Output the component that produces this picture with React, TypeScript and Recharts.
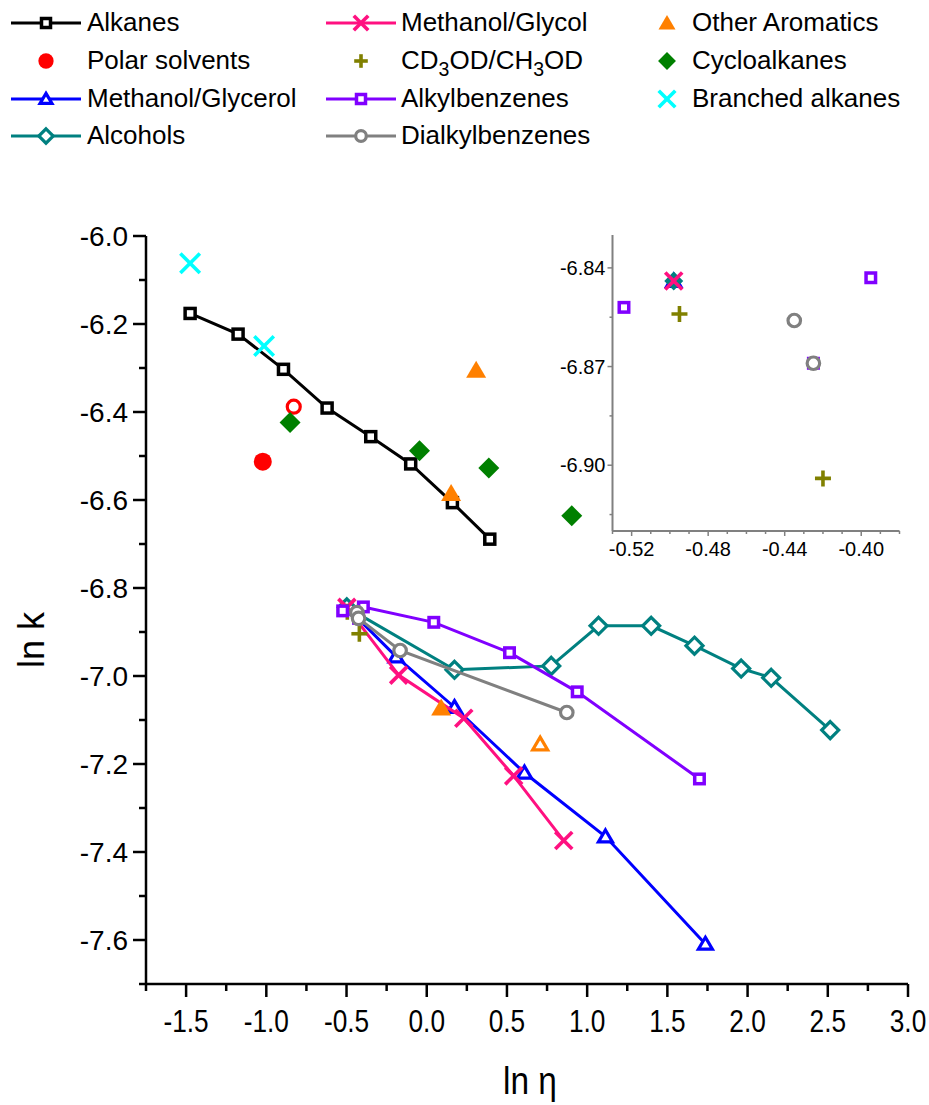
import React from "react";
import { ScatterChart, Scatter, XAxis, YAxis } from "recharts";

if (typeof document !== "undefined") document.body.style.margin = "0";

const FONT = "'Liberation Sans', Arial, sans-serif";

// [ln eta, ln k]
const alkanes = [[-1.475, -6.176], [-1.176, -6.223], [-0.893, -6.303], [-0.621, -6.391], [-0.349, -6.456], [-0.1, -6.518], [0.16, -6.606], [0.393, -6.689]];
const polarSolvents = [[-1.022, -6.513], [-0.829, -6.388]];
const polarOpen = [false, true];
const methanolGlycerol = [[-0.498, -6.844], [-0.191, -6.956], [0.173, -7.071], [0.609, -7.22], [1.114, -7.365], [1.737, -7.609]];
const alcohols = [[-0.498, -6.844], [0.173, -6.986], [0.776, -6.977], [1.071, -6.886], [1.399, -6.886], [1.669, -6.931], [1.96, -6.983], [2.147, -7.004], [2.515, -7.123]];
const methanolGlycol = [[-0.498, -6.844], [-0.175, -6.998], [0.231, -7.096], [0.542, -7.227], [0.854, -7.374]];
const cd3od = [[-0.495, -6.854], [-0.42, -6.904]];
const alkylbenzenes = [[-0.524, -6.852], [-0.425, -6.869], [-0.395, -6.843], [0.044, -6.878], [0.516, -6.947], [0.938, -7.036], [1.7, -7.234]];
const dialkylbenzenes = [[-0.435, -6.856], [-0.425, -6.869], [-0.166, -6.942], [0.873, -7.083]];
const otherAromatics = [[0.308, -6.305], [0.152, -6.585], [0.09, -7.073], [0.707, -7.155]];
const aromaticsOpen = [false, false, false, true];
const cycloalkanes = [[-0.852, -6.424], [-0.045, -6.488], [0.387, -6.527], [0.904, -6.636]];
const branchedAlkanes = [[-1.475, -6.062], [-1.014, -6.25]];

// axis ticks
const xTicks = [-1.75, -1.5, -1.25, -1.0, -0.75, -0.5, -0.25, 0, 0.25, 0.5, 0.75, 1.0, 1.25, 1.5, 1.75, 2.0, 2.25, 2.5, 2.75, 3.0];
const xMajor = [-1.5, -1.0, -0.5, 0, 0.5, 1.0, 1.5, 2.0, 2.5, 3.0];
const yTicks = [-7.7, -7.6, -7.5, -7.4, -7.3, -7.2, -7.1, -7.0, -6.9, -6.8, -6.7, -6.6, -6.5, -6.4, -6.3, -6.2, -6.1, -6.0];
const yMajor = [-7.6, -7.4, -7.2, -7.0, -6.8, -6.6, -6.4, -6.2, -6.0];
const insetXTicks = [-0.53, -0.52, -0.51, -0.5, -0.49, -0.48, -0.47, -0.46, -0.45, -0.44, -0.43, -0.42, -0.41, -0.4, -0.39, -0.38];
const insetXMajor = [-0.52, -0.48, -0.44, -0.4];
const insetYTicks = [-6.915, -6.9, -6.885, -6.87, -6.855, -6.84];
const insetYMajor = [-6.9, -6.87, -6.84];

type Kind = "square" | "circle" | "triangle" | "diamond" | "x" | "plus";

const toPts = (arr: number[][], open?: boolean[]) =>
  arr.map(([x, y], i) => ({ x, y, open: open ? open[i] : false }));

// size = geometric size of the symbol; openSize used for the hollow variant of filled series
const series = [
  { name: "Alkanes", pts: toPts(alkanes), color: "#000000", kind: "square" as Kind, filled: false, size: 10, openSize: 10, line: true },
  { name: "Polar solvents", pts: toPts(polarSolvents, polarOpen), color: "#ff0000", kind: "circle" as Kind, filled: true, size: 18, openSize: 13, line: false },
  { name: "Methanol/Glycerol", pts: toPts(methanolGlycerol), color: "#0000ff", kind: "triangle" as Kind, filled: false, size: 14, openSize: 14, line: true },
  { name: "Alcohols", pts: toPts(alcohols), color: "#008080", kind: "diamond" as Kind, filled: false, size: 17, openSize: 17, line: true },
  { name: "Methanol/Glycol", pts: toPts(methanolGlycol), color: "#ff1080", kind: "x" as Kind, filled: false, size: 17, openSize: 17, line: true },
  { name: "CD3OD/CH3OD", pts: toPts(cd3od), color: "#808000", kind: "plus" as Kind, filled: false, size: 16, openSize: 16, line: false },
  { name: "Alkylbenzenes", pts: toPts(alkylbenzenes), color: "#8000ff", kind: "square" as Kind, filled: false, size: 9.5, openSize: 9.5, line: true },
  { name: "Dialkylbenzenes", pts: toPts(dialkylbenzenes), color: "#808080", kind: "circle" as Kind, filled: false, size: 12.5, openSize: 12.5, line: true },
  { name: "Other Aromatics", pts: toPts(otherAromatics, aromaticsOpen), color: "#ff8000", kind: "triangle" as Kind, filled: true, size: 20, openSize: 15, line: false },
  { name: "Cycloalkanes", pts: toPts(cycloalkanes), color: "#008000", kind: "diamond" as Kind, filled: true, size: 21, openSize: 21, line: false },
  { name: "Branched alkanes", pts: toPts(branchedAlkanes), color: "#00ffff", kind: "x" as Kind, filled: false, size: 19.5, openSize: 19.5, line: false },
];

function Marker({ kind, cx, cy, color, size, filled }: { kind: Kind; cx: number; cy: number; color: string; size: number; filled: boolean }) {
  const r = size / 2;
  const sw = 3.2;
  if (kind === "square")
    return <rect x={cx - r} y={cy - r} width={size} height={size} fill={filled ? color : "#fff"} stroke={color} strokeWidth={3.5} />;
  if (kind === "circle") {
    if (filled) return <circle cx={cx} cy={cy} r={r} fill={color} />;
    return <circle cx={cx} cy={cy} r={r} fill="#fff" stroke={color} strokeWidth={sw} />;
  }
  if (kind === "triangle") {
    const pts = `${cx},${cy - r * 0.95} ${cx + r},${cy + r * 0.75} ${cx - r},${cy + r * 0.75}`;
    if (filled) return <polygon points={pts} fill={color} />;
    return <polygon points={pts} fill="#fff" stroke={color} strokeWidth={sw} />;
  }
  if (kind === "diamond") {
    const pts = `${cx},${cy - r} ${cx + r},${cy} ${cx},${cy + r} ${cx - r},${cy}`;
    if (filled) return <polygon points={pts} fill={color} />;
    return <polygon points={pts} fill="#fff" stroke={color} strokeWidth={sw} />;
  }
  if (kind === "x")
    return (
      <g stroke={color} strokeWidth={3.6}>
        <line x1={cx - r} y1={cy - r} x2={cx + r} y2={cy + r} />
        <line x1={cx - r} y1={cy + r} x2={cx + r} y2={cy - r} />
      </g>
    );
  return (
    <g stroke={color} strokeWidth={3.6}>
      <line x1={cx - r} y1={cy} x2={cx + r} y2={cy} />
      <line x1={cx} y1={cy - r} x2={cx} y2={cy + r} />
    </g>
  );
}

const MainXTick = (p: any) => {
  const v = p.payload.value;
  const major = xMajor.includes(v);
  return (
    <g>
      <line x1={p.x} y1={p.y} x2={p.x} y2={p.y + (major ? 13 : 7)} stroke="#000" strokeWidth={2.5} />
      {major && (
        <text transform={`translate(${p.x} ${p.y + 48}) scale(0.82 1)`} textAnchor="middle" fontSize={32} fontFamily={FONT} fill="#000">
          {v.toFixed(1)}
        </text>
      )}
    </g>
  );
};

const MainYTick = (p: any) => {
  const v = p.payload.value;
  const major = yMajor.includes(v);
  return (
    <g>
      <line x1={p.x} y1={p.y} x2={p.x - (major ? 13 : 7)} y2={p.y} stroke="#000" strokeWidth={2.5} />
      {major && (
        <text x={p.x - 18} y={p.y + 10} textAnchor="end" fontSize={28} fontFamily={FONT} fill="#000">
          {v.toFixed(1)}
        </text>
      )}
    </g>
  );
};

const InsetXTick = (p: any) => {
  const v = p.payload.value;
  const major = insetXMajor.includes(v);
  return (
    <g>
      <line x1={p.x} y1={p.y} x2={p.x} y2={p.y + (major ? 5 : 3)} stroke="#808080" strokeWidth={1.5} />
      {major && (
        <text x={p.x} y={p.y + 25} textAnchor="middle" fontSize={20} fontFamily={FONT} fill="#000">
          {v.toFixed(2)}
        </text>
      )}
    </g>
  );
};

const InsetYTick = (p: any) => {
  const v = p.payload.value;
  const major = insetYMajor.includes(v);
  return (
    <g>
      <line x1={p.x} y1={p.y} x2={p.x - (major ? 5 : 3)} y2={p.y} stroke="#808080" strokeWidth={1.5} />
      {major && (
        <text x={p.x - 7} y={p.y + 7} textAnchor="end" fontSize={20} fontFamily={FONT} fill="#000">
          {v.toFixed(2)}
        </text>
      )}
    </g>
  );
};

const inInset = (d: { x: number; y: number }) => d.x >= -0.535 && d.x <= -0.375 && d.y >= -6.925 && d.y <= -6.825;

const legendCols = [{ sx: 10, tx: 87 }, { sx: 325, tx: 401 }, { sx: 631, tx: 692 }];
const legendRows = [23, 61, 99, 136];
const legendPlace = [[0, 0], [0, 1], [0, 2], [0, 3], [1, 0], [1, 1], [1, 2], [1, 3], [2, 0], [2, 1], [2, 2]];

const legendLabel = (name: string) =>
  name === "CD3OD/CH3OD" ? (
    <span>
      CD<sub style={{ fontSize: "0.75em", verticalAlign: "-0.35em" }}>3</sub>OD/CH<sub style={{ fontSize: "0.75em", verticalAlign: "-0.35em" }}>3</sub>OD
    </span>
  ) : (
    name
  );

export default function App() {
  return (
    <div style={{ position: "relative", width: 929, height: 1105, background: "#fff", fontFamily: FONT, overflow: "hidden" }}>
      <div style={{ position: "absolute", left: 0, top: 0 }}>
        <ScatterChart width={929} height={1105} margin={{ top: 236, right: 21, bottom: 0, left: 0 }}>
          <XAxis
            type="number"
            dataKey="x"
            domain={[-1.75, 3]}
            ticks={xTicks}
            interval={0}
            allowDataOverflow
            height={121}
            tickSize={0}
            tickMargin={0}
            tickLine={false}
            axisLine={{ stroke: "#000", strokeWidth: 2.5 }}
            tick={(p: any) => <MainXTick {...p} />}
            label={{
              content: () => (
                <text transform="translate(530 1094) scale(0.88 1)" textAnchor="middle" fontSize={38} fontFamily={FONT} fill="#000">
                  ln η
                </text>
              ),
            }}
          />
          <YAxis
            type="number"
            dataKey="y"
            domain={[-7.7, -6.0]}
            ticks={yTicks}
            interval={0}
            allowDataOverflow
            width={146}
            tickSize={0}
            tickMargin={0}
            tickLine={false}
            axisLine={{ stroke: "#000", strokeWidth: 2.5 }}
            tick={(p: any) => <MainYTick {...p} />}
            label={{
              content: () => (
                <text transform="translate(44 640) rotate(-90)" textAnchor="middle" fontSize={36} fontFamily={FONT} fill="#000">
                  ln k
                </text>
              ),
            }}
          />
          {series.map((s) => (
            <Scatter
              key={s.name}
              name={s.name}
              data={s.pts}
              isAnimationActive={false}
              fill={s.color}
              line={s.line ? { stroke: s.color, strokeWidth: 3 } : false}
              shape={(p: any) => {
                const open = !!p.payload?.open;
                return <Marker kind={s.kind} cx={p.cx} cy={p.cy} color={s.color} size={open ? s.openSize : s.size} filled={s.filled && !open} />;
              }}
            />
          ))}
        </ScatterChart>
      </div>

      {/* inset: zoom on the methanol end of the series */}
      <div style={{ position: "absolute", left: 540, top: 225 }}>
        <ScatterChart width={380} height={340} margin={{ top: 10, right: 20.5, bottom: 0, left: 0 }}>
          <XAxis
            type="number"
            dataKey="x"
            domain={[-0.53, -0.38]}
            ticks={insetXTicks}
            interval={0}
            allowDataOverflow
            height={34}
            tickSize={0}
            tickMargin={0}
            tickLine={false}
            axisLine={{ stroke: "#808080", strokeWidth: 2 }}
            tick={(p: any) => <InsetXTick {...p} />}
          />
          <YAxis
            type="number"
            dataKey="y"
            domain={[-6.92, -6.83]}
            ticks={insetYTicks}
            interval={0}
            allowDataOverflow
            width={72.5}
            tickSize={0}
            tickMargin={0}
            tickLine={false}
            axisLine={{ stroke: "#808080", strokeWidth: 2 }}
            tick={(p: any) => <InsetYTick {...p} />}
          />
          {series.map((s) => (
            <Scatter
              key={s.name}
              name={s.name}
              data={s.pts.filter(inInset)}
              isAnimationActive={false}
              fill={s.color}
              shape={(p: any) => (
                <Marker kind={s.kind} cx={p.cx} cy={p.cy} color={s.color} size={s.name === "Alcohols" ? 19 : s.size} filled={s.name === "Alcohols" ? true : s.filled} />
              )}
            />
          ))}
        </ScatterChart>
      </div>

      {/* legend */}
      {series.map((s, i) => {
        const [c, r] = legendPlace[i];
        const col = legendCols[c];
        const cy = legendRows[r];
        return (
          <React.Fragment key={s.name}>
            <svg style={{ position: "absolute", left: col.sx, top: cy - 20 }} width={72} height={40}>
              {s.line && <line x1={1} y1={20} x2={71} y2={20} stroke={s.color} strokeWidth={3} />}
              <Marker kind={s.kind} cx={36} cy={20} color={s.color} size={s.kind === "square" ? 9 : s.size * 0.85} filled={s.filled} />
            </svg>
            <div style={{ position: "absolute", left: col.tx, top: cy - 16, fontSize: 26, lineHeight: "30px", whiteSpace: "nowrap", color: "#000" }}>
              {legendLabel(s.name)}
            </div>
          </React.Fragment>
        );
      })}
    </div>
  );
}
